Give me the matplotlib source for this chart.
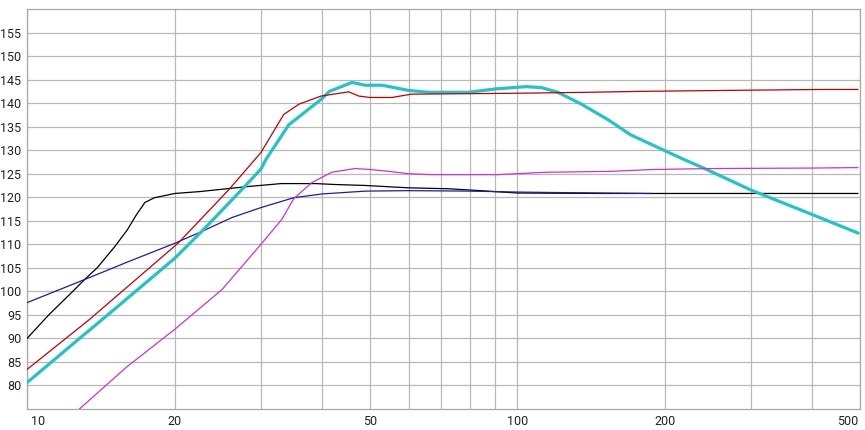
import matplotlib
matplotlib.use('Agg')
import matplotlib.pyplot as plt
import matplotlib.transforms as mtransforms

plt.rcParams['font.family'] = ['Roboto', 'DejaVu Sans']

# frequency (Hz) / level (dB)
black_f = [10, 11.1, 12.4, 13.1, 13.9, 15.1, 16, 16.7, 17.4, 18.2, 19.2, 20, 22.5, 28.4, 33, 38.8, 42.6, 49, 60, 72.5, 84, 100, 150, 495]
black_y = [90, 95.1, 100, 102.5, 105, 109.5, 113, 116.2, 118.9, 119.9, 120.4, 120.8, 121.2, 122.3, 122.9, 122.9, 122.7, 122.5, 122, 121.8, 121.4, 120.9, 120.8, 120.8]

blue_f = [10, 13.1, 16, 20, 22.7, 26.2, 30, 35, 40, 49, 60, 80, 100, 120, 150, 187]
blue_y = [97.6, 102.5, 106.2, 110.2, 112.7, 115.7, 117.8, 119.9, 120.7, 121.3, 121.4, 121.3, 121.1, 121, 120.9, 120.8]

red_f = [10, 13.4, 20, 20.4, 25.8, 30, 33.4, 35.9, 39.8, 45.3, 47.5, 50, 55.5, 60.8, 100, 139, 179, 268, 413, 495]
red_y = [83.4, 94, 109.6, 110.4, 121.6, 129.5, 137.6, 139.8, 141.5, 142.4, 141.5, 141.2, 141.2, 141.9, 142.1, 142.3, 142.5, 142.7, 142.9, 142.9]

cyan_f = [10, 12.8, 15, 20, 22.7, 27.7, 30, 30.7, 34.2, 39.8, 41.4, 46, 49, 53, 60, 66, 79.5, 90, 104, 112, 121, 135, 153, 170, 198, 219, 241, 300, 400, 495]
cyan_y = [80.6, 90, 96, 107, 112.7, 122.1, 126, 128, 135.4, 140.8, 142.5, 144.4, 143.8, 143.8, 142.7, 142.3, 142.3, 143, 143.5, 143.3, 142.3, 139.8, 136.5, 133.3, 130.1, 128, 126.1, 121.5, 116.3, 112.4]

mag_f = [12.6, 16, 20, 25, 30, 33.1, 35, 38.1, 41.8, 46.7, 50, 54.7, 60, 66.9, 91, 114, 155, 190, 250, 400, 495]
mag_y = [74.4, 84, 91.9, 100.4, 110, 115.3, 119.7, 123.1, 125.3, 126.1, 125.9, 125.5, 125, 124.8, 124.8, 125.3, 125.5, 125.9, 126.1, 126.2, 126.3]

x_ticks = [10, 20, 50, 100, 200, 500]
x_minor = [30, 40, 60, 70, 80, 90, 300, 400]
y_ticks = list(range(80, 160, 5))

fig = plt.figure(figsize=(8.65, 4.3), dpi=100)
ax = fig.add_axes([27/865, 21/430, 833/865, 400/430])

ax.plot(black_f, black_y, color='black', lw=0.9, zorder=3)
ax.plot(blue_f, blue_y, color='#1c1ca8', lw=0.9, zorder=4)
ax.plot(cyan_f, cyan_y, color='#22c4c6', lw=2.3, zorder=5)
ax.plot(mag_f, mag_y, color='#cc33cc', lw=0.9, zorder=6)
ax.plot(red_f, red_y, color='#c00000', lw=0.9, zorder=7)

ax.set_xscale('log')
ax.set_xlim(10, 495)
ax.set_ylim(75, 160)

ax.set_xticks(x_ticks)
ax.set_xticklabels([str(t) for t in x_ticks])
ax.set_xticks(x_minor, minor=True)
ax.set_xticklabels([], minor=True)
ax.set_yticks(y_ticks)
ax.set_yticklabels([str(t) for t in y_ticks])

ax.tick_params(axis='both', which='both', length=0, labelsize=9, colors='#222222')
ax.tick_params(axis='x', pad=4)
ax.tick_params(axis='y', pad=4)

ax.grid(True, which='both', color='#b8b8b8', lw=0.9)
ax.set_axisbelow(True)
for s in ax.spines.values():
    s.set_color('#a8a8a8')
    s.set_linewidth(0.9)

# first and last x labels sit inside the plot edges
labels = ax.get_xticklabels()
labels[0].set_ha('left')
labels[0].set_transform(labels[0].get_transform() + mtransforms.ScaledTranslation(4/100, 0, fig.dpi_scale_trans))
labels[-1].set_ha('right')
labels[-1].set_transform(labels[-1].get_transform() + mtransforms.ScaledTranslation(-2/100, 0, fig.dpi_scale_trans))

fig.savefig('out.png', dpi=100)
